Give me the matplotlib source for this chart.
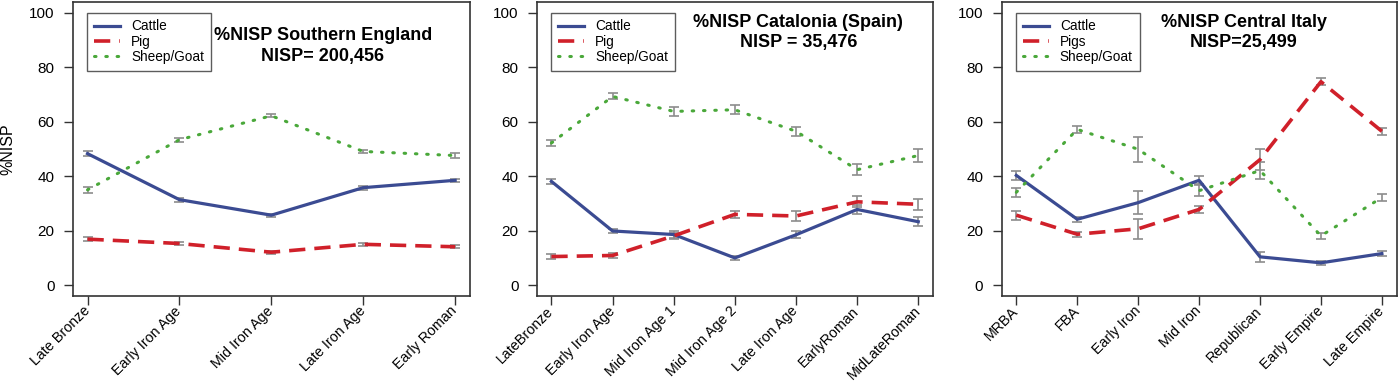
import numpy as np
import matplotlib
matplotlib.use("Agg")
from matplotlib import pyplot as plt

plt.rcParams['font.family'] = ['Liberation Sans', 'DejaVu Sans']

# Southern England
eng_periods = ["Late Bronze", "Early Iron Age", "Mid Iron Age", "Late Iron Age", "Early Roman"]
eng_cattle = [48.3, 31.4, 25.7, 35.8, 38.5]
eng_cattle_err = [0.9, 0.7, 0.6, 0.7, 0.6]
eng_pig = [16.9, 15.3, 12.1, 15.0, 14.1]
eng_pig_err = [0.8, 0.6, 0.5, 0.6, 0.6]
eng_sheep = [35.0, 53.4, 62.2, 49.1, 47.6]
eng_sheep_err = [1.1, 0.7, 0.5, 0.7, 0.8]

# Catalonia
cat_periods = ["LateBronze", "Early Iron Age", "Mid Iron Age 1", "Mid Iron Age 2",
               "Late Iron Age", "EarlyRoman", "MidLateRoman"]
cat_cattle = [38.1, 19.9, 18.6, 10.0, 18.5, 27.8, 23.3]
cat_cattle_err = [1.0, 0.8, 1.2, 0.8, 1.3, 1.5, 1.7]
cat_pig = [10.5, 10.9, 18.1, 26.0, 25.4, 30.6, 29.7]
cat_pig_err = [0.8, 0.9, 1.2, 1.4, 1.8, 2.0, 2.0]
cat_sheep = [52.2, 69.3, 63.8, 64.4, 56.5, 42.4, 47.6]
cat_sheep_err = [1.1, 1.1, 1.8, 1.7, 1.6, 2.0, 2.5]

# Central Italy
ita_periods = ["MRBA", "FBA", "Early Iron", "Mid Iron", "Republican", "Early Empire", "Late Empire"]
ita_cattle = [40.3, 24.2, 30.3, 38.5, 10.4, 8.2, 11.6]
ita_cattle_err = [1.8, 1.0, 4.2, 1.5, 1.8, 0.7, 0.8]
ita_pig = [25.7, 18.7, 20.7, 27.8, 46.1, 74.7, 56.5]
ita_pig_err = [1.6, 1.0, 3.7, 1.3, 3.9, 1.2, 1.3]
ita_sheep = [34.1, 57.2, 49.9, 34.7, 42.1, 18.1, 32.2]
ita_sheep_err = [1.6, 1.2, 4.6, 2.0, 3.2, 1.1, 1.2]

panels = [
    (eng_periods, eng_cattle, eng_cattle_err, eng_pig, eng_pig_err, eng_sheep, eng_sheep_err,
     "Pig", "%NISP Southern England\nNISP= 200,456", (0.63, 0.85), [0.052, 0.229, 0.2836, 0.766]),
    (cat_periods, cat_cattle, cat_cattle_err, cat_pig, cat_pig_err, cat_sheep, cat_sheep_err,
     "Pig", "%NISP Catalonia (Spain)\nNISP = 35,476", (0.66, 0.895), [0.3834, 0.229, 0.283, 0.766]),
    (ita_periods, ita_cattle, ita_cattle_err, ita_pig, ita_pig_err, ita_sheep, ita_sheep_err,
     "Pigs", "%NISP Central Italy\nNISP=25,499", (0.613, 0.895), [0.7155, 0.229, 0.282, 0.766]),
]

c_cattle = "#3b4b92"
c_pig = "#d0202a"
c_sheep = "#4aa83a"
c_err = "#8c8c8c"

fig = plt.figure(figsize=(14, 3.84), dpi=100)

for i, (periods, cat, cat_e, pig, pig_e, sh, sh_e, pig_name, title, tpos, pos) in enumerate(panels):
    ax = fig.add_axes(pos)
    x = np.arange(len(periods))

    for vals, errs in [(cat, cat_e), (pig, pig_e), (sh, sh_e)]:
        ax.errorbar(x, vals, yerr=errs, fmt="none", ecolor=c_err, elinewidth=1.2,
                    capsize=3.5, capthick=1.2, zorder=2)

    ax.plot(x, cat, color=c_cattle, lw=2.3, label="Cattle", zorder=3)
    ax.plot(x, pig, color=c_pig, lw=2.6, ls=(0, (4.5, 2.5)), label=pig_name, zorder=3)
    ax.plot(x, sh, color=c_sheep, lw=2.2, ls=(0, (0.5, 3.2)), dash_capstyle="round",
            label="Sheep/Goat", zorder=3)

    n = len(periods) - 1
    ax.set_xlim(-0.04 * n, n + 0.04 * n)
    ax.set_ylim(-4, 104)
    ax.set_yticks([0, 20, 40, 60, 80, 100])
    ax.set_xticks(x)
    ax.set_xticklabels(periods, rotation=45, ha="right", va="center",
                       rotation_mode="anchor", fontsize=10.3)
    ax.tick_params(axis="y", labelsize=11, length=6.7, width=1, pad=6.5, colors="#333333",
                   labelcolor="black")
    ax.tick_params(axis="x", length=6.7, width=1, pad=2.5, colors="#333333", labelcolor="black")
    for s in ax.spines.values():
        s.set_color("#333333")
        s.set_linewidth(1.2)

    ax.text(tpos[0], tpos[1], title, transform=ax.transAxes, ha="center", va="center",
            fontsize=13, fontweight="bold", linespacing=1.25)

    leg = ax.legend(loc="upper left", bbox_to_anchor=(0.037, 0.964), fontsize=9.8,
                    frameon=True, fancybox=False, handlelength=1.9, handletextpad=0.8,
                    borderpad=0.5, labelspacing=0.1, borderaxespad=0)
    leg.get_frame().set_edgecolor("#333333")
    leg.get_frame().set_linewidth(1.0)

    if i == 0:
        ax.set_ylabel("%NISP", fontsize=11.5, labelpad=10)

fig.savefig("out.png", dpi=100)
